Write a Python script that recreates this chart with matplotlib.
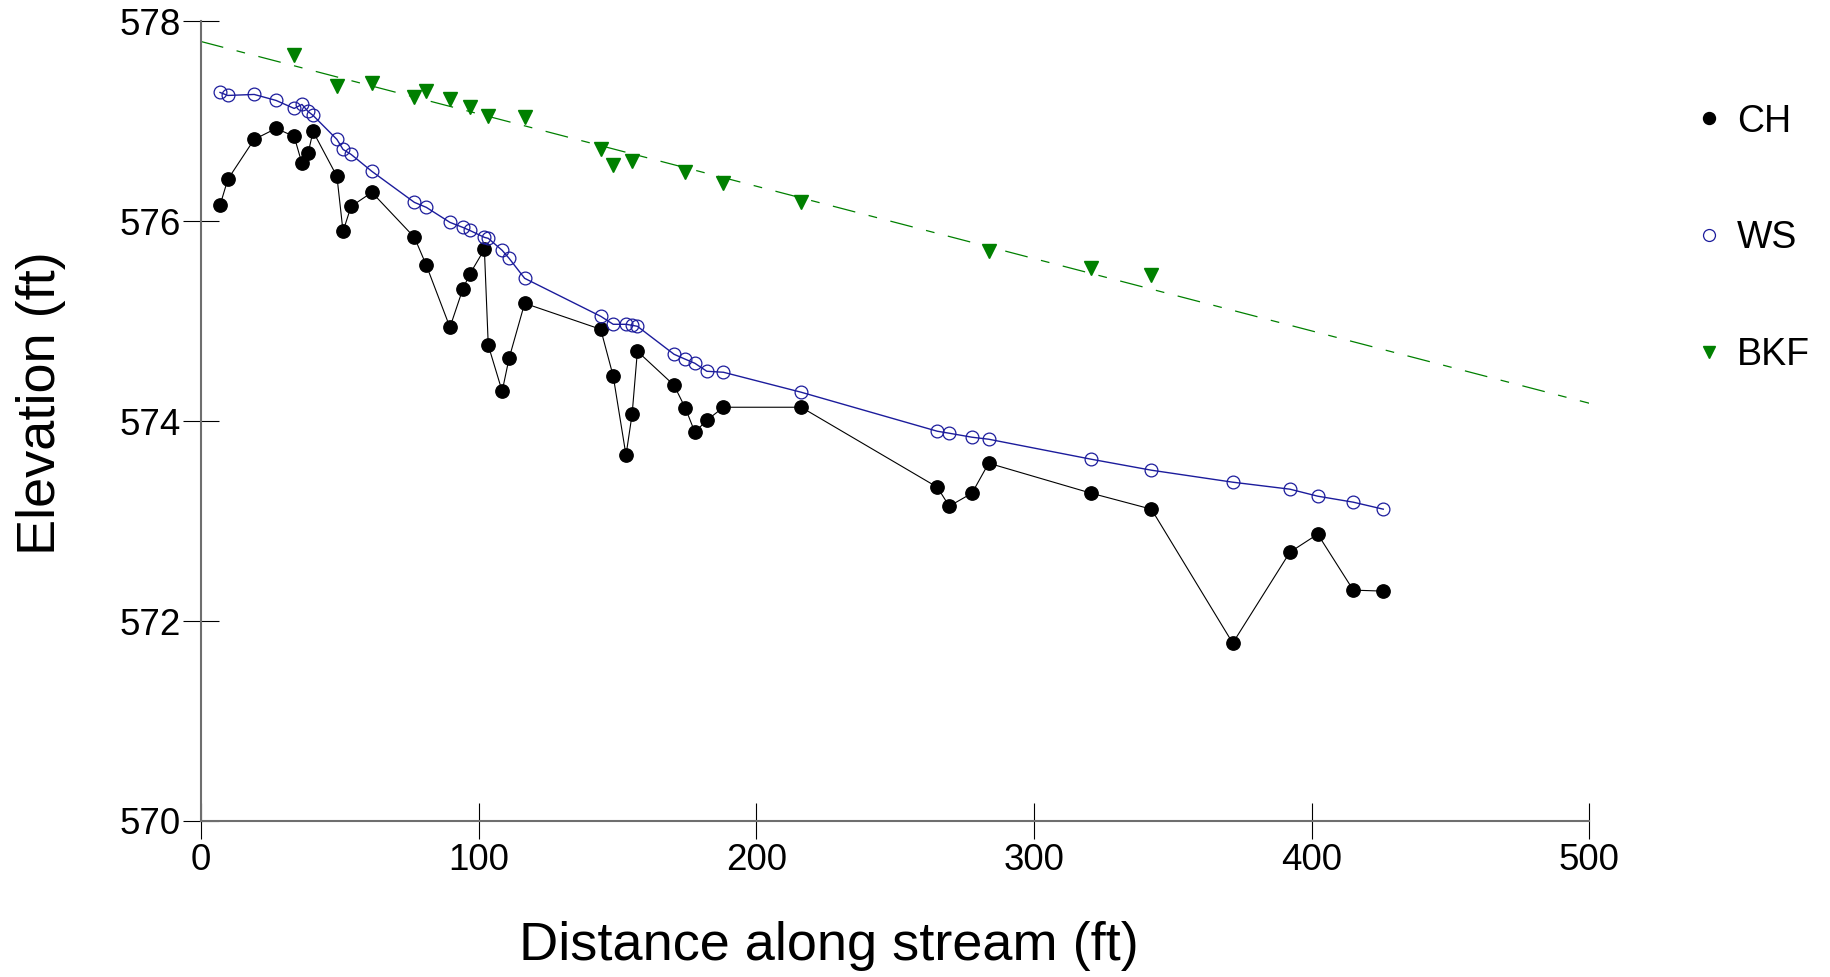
import matplotlib
matplotlib.use('Agg')
import matplotlib.pyplot as plt
from matplotlib.lines import Line2D

plt.rcParams['font.family'] = ['Liberation Sans', 'DejaVu Sans']

# distance along stream (ft), shared by channel and water surface shots
dist = [6.9, 9.7, 19.2, 27.1, 33.6, 36.4, 38.6, 40.4, 49.0, 51.2, 54.1, 61.6,
        76.9, 81.2, 89.7, 94.3, 96.8, 102.1, 103.5, 108.5, 111.0, 116.6,
        144.0, 148.5, 153.1, 155.3, 157.2, 170.4, 174.5, 177.9, 182.2, 188.2,
        216.2, 265.2, 269.5, 277.7, 283.7, 320.6, 342.3, 371.6, 392.2, 402.2,
        415.0, 425.8]

# channel bottom elevation (ft)
ch = [576.16, 576.42, 576.82, 576.93, 576.85, 576.58, 576.68, 576.90, 576.45,
      575.90, 576.15, 576.29, 575.84, 575.56, 574.94, 575.32, 575.47, 575.72,
      574.76, 574.30, 574.63, 575.18, 574.92, 574.45, 573.66, 574.07, 574.70,
      574.36, 574.13, 573.89, 574.01, 574.14, 574.14, 573.34, 573.15, 573.28,
      573.58, 573.28, 573.12, 571.78, 572.69, 572.87, 572.31, 572.30]

# water surface elevation (ft)
ws = [577.29, 577.26, 577.27, 577.21, 577.13, 577.17, 577.10, 577.06, 576.82,
      576.72, 576.67, 576.50, 576.19, 576.14, 575.99, 575.94, 575.91, 575.84,
      575.83, 575.71, 575.63, 575.43, 575.05, 574.97, 574.97, 574.96, 574.95,
      574.67, 574.62, 574.58, 574.50, 574.49, 574.29, 573.90, 573.88, 573.84,
      573.82, 573.62, 573.51, 573.39, 573.32, 573.25, 573.19, 573.12]

# bankfull indicators
bkf_dist = [33.6, 49.0, 61.6, 76.9, 81.2, 89.7, 96.8, 103.5, 116.6, 144.0,
            148.5, 155.3, 174.5, 188.2, 216.2, 283.7, 320.6, 342.3]
bkf = [577.66, 577.35, 577.38, 577.24, 577.30, 577.22, 577.14, 577.05, 577.04,
       576.72, 576.56, 576.60, 576.49, 576.38, 576.19, 575.70, 575.53, 575.46]

# bankfull trend line end points
bkf_fit_dist = [0, 500]
bkf_fit = [577.80, 574.18]

ws_color = '#1c1c9c'
bkf_color = '#008000'

fig = plt.figure(figsize=(18.31, 9.77), dpi=100)
ax = fig.add_axes([0.1097, 0.1597, 0.7583, 0.8183])

ax.plot(bkf_fit_dist, bkf_fit, color=bkf_color, lw=0.9,
        linestyle=(0, (18.5, 11, 7, 11)))
ax.plot(dist, ch, color='black', lw=0.8, marker='o', ms=9.6, mfc='black',
        mec='black')
ax.plot(dist, ws, color=ws_color, lw=1.0, marker='o', ms=9.2, mfc='none',
        mec=ws_color, mew=0.9)
ax.plot(bkf_dist, bkf, linestyle='none', marker='v', ms=9.5, color=bkf_color)

ax.set_xlim(0, 500)
ax.set_ylim(570, 578)
ax.set_xticks([0, 100, 200, 300, 400, 500])
ax.set_yticks([570, 572, 574, 576, 578])

for side in ['top', 'right']:
    ax.spines[side].set_visible(False)
for side in ['left', 'bottom']:
    ax.spines[side].set_color('#6e6e6e')
    ax.spines[side].set_linewidth(1.5)

ax.tick_params(axis='both', direction='inout', length=26, width=0.8,
               color='black', labelsize=26.5)
ax.tick_params(axis='x', pad=3)
ax.tick_params(axis='y', pad=1.5)

ax.set_xlabel('Distance along stream (ft)', fontsize=39)
ax.set_ylabel('Elevation (ft)', fontsize=39)
ax.xaxis.set_label_coords(0.452, -0.125)
ax.yaxis.set_label_coords(-0.097, 0.5225)

handles = [
    Line2D([], [], linestyle='none', marker='o', ms=8.6, color='black'),
    Line2D([], [], linestyle='none', marker='o', ms=8.6, mfc='none',
           mec=ws_color, mew=0.9),
    Line2D([], [], linestyle='none', marker='v', ms=8.6, color=bkf_color),
]
fig.legend(handles, ['CH', 'WS', 'BKF'], loc='upper left',
           bbox_to_anchor=(0.923, 0.894), frameon=False, fontsize=27,
           handlelength=1.0, handletextpad=0.25, labelspacing=2.15,
           borderpad=0, borderaxespad=0)

fig.savefig('out.png', dpi=100)
